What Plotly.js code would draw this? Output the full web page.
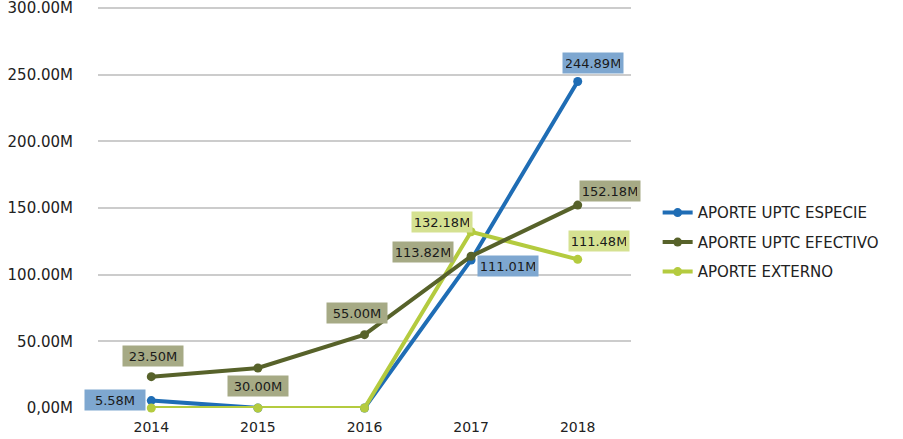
<!DOCTYPE html>
<html>
<head>
<meta charset="utf-8">
<script src="https://cdn.plot.ly/plotly-3.0.1.min.js"></script>
<style>html,body{margin:0;padding:0;background:#fff;}#chart{width:903px;height:439px;}#err{position:absolute;left:0;top:0;color:red;font-size:10px;}</style>
</head>
<body>
<div id="chart"></div>
<div id="err"></div>
<script>
const years = ['2014', '2015', '2016', '2017', '2018'];
const especie = [5.58, 0, 0, 111.01, 244.89];
const efectivo = [23.50, 30.00, 55.00, 113.82, 152.18];
const externo = [0, 0, 0, 132.18, 111.48];
const names = ['APORTE UPTC ESPECIE', 'APORTE UPTC EFECTIVO', 'APORTE EXTERNO'];
const yTickVals = [0, 50, 100, 150, 200, 250, 300];
const yTickText = ['0,00M', '50.00M', '100.00M', '150.00M', '200.00M', '250.00M', '300.00M'];

try {
const colors = {esp: '#1f6db5', efe: '#57622a', ext: '#b4cb3f'};
const boxColors = {esp: '#7ea7d0', efe: '#a6aa85', ext: '#d5e191'};

function trace(y, name, color, rank, grp) {
  return {
    x: years, y: y, name: name, type: 'scatter', mode: 'lines+markers',
    line: {color: color, width: 4}, marker: {color: color, size: 9},
    cliponaxis: false, legendrank: rank, legendgroup: grp
  };
}
const data = [
  trace(especie, names[0], colors.esp, 1, 'a'),
  trace(externo, names[2], colors.ext, 3, 'c'),
  trace(efectivo, names[1], colors.efe, 2, 'b')
];

function lab(i, arr, key, dx, dy) {
  return {
    x: i, y: arr[i], xref: 'x', yref: 'y', showarrow: false,
    text: arr[i].toFixed(2) + 'M', xshift: dx, yshift: dy,
    bgcolor: boxColors[key], borderpad: 3, width: 54, height: 14,
    font: {family: 'DejaVu Sans', size: 13, color: '#1a1a1a'}
  };
}
const annotations = [
  lab(0, especie, 'esp', -36, 1),
  lab(0, efectivo, 'efe', 2, 21),
  lab(1, efectivo, 'efe', 0, -18),
  lab(2, efectivo, 'efe', -8, 22),
  lab(3, efectivo, 'efe', -48, 4),
  lab(3, especie, 'esp', 37, -6),
  lab(3, externo, 'ext', -29, 10),
  lab(4, externo, 'ext', 21, 18),
  lab(4, especie, 'esp', 15, 18),
  lab(4, efectivo, 'efe', 32, 14)
];

const layout = {
  width: 903, height: 439,
  margin: {l: 98, r: 272, t: 4, b: 31},
  paper_bgcolor: '#fff', plot_bgcolor: '#fff',
  font: {family: 'DejaVu Sans', size: 14, color: '#222'},
  showlegend: true,
  legend: {x: 1.05, xanchor: 'left', y: 0.41, yanchor: 'middle',
    font: {family: 'DejaVu Sans', size: 15, color: '#222'},
    tracegroupgap: 7, itemwidth: 30, bgcolor: 'rgba(0,0,0,0)'},
  xaxis: {type: 'category', range: [-0.5, 4.5], showgrid: false, zeroline: false,
    showline: false, ticks: '', ticklabelstandoff: 9, tickfont: {size: 14, color: '#222'}},
  yaxis: {range: [0, 303], tickvals: yTickVals, ticktext: yTickText,
    showgrid: true, gridcolor: '#cccccc', gridwidth: 2, zeroline: false,
    showline: false, ticks: '', ticklabelstandoff: 24, ticklabeloverflow: 'allow',
    tickfont: {size: 15, color: '#222'}},
  annotations: annotations
};
Plotly.newPlot('chart', data, layout, {displayModeBar: false}).catch(function(e){document.getElementById('err').textContent = String(e);});
} catch (e) { document.getElementById('err').textContent = String(e); }
</script>
</body>
</html>
